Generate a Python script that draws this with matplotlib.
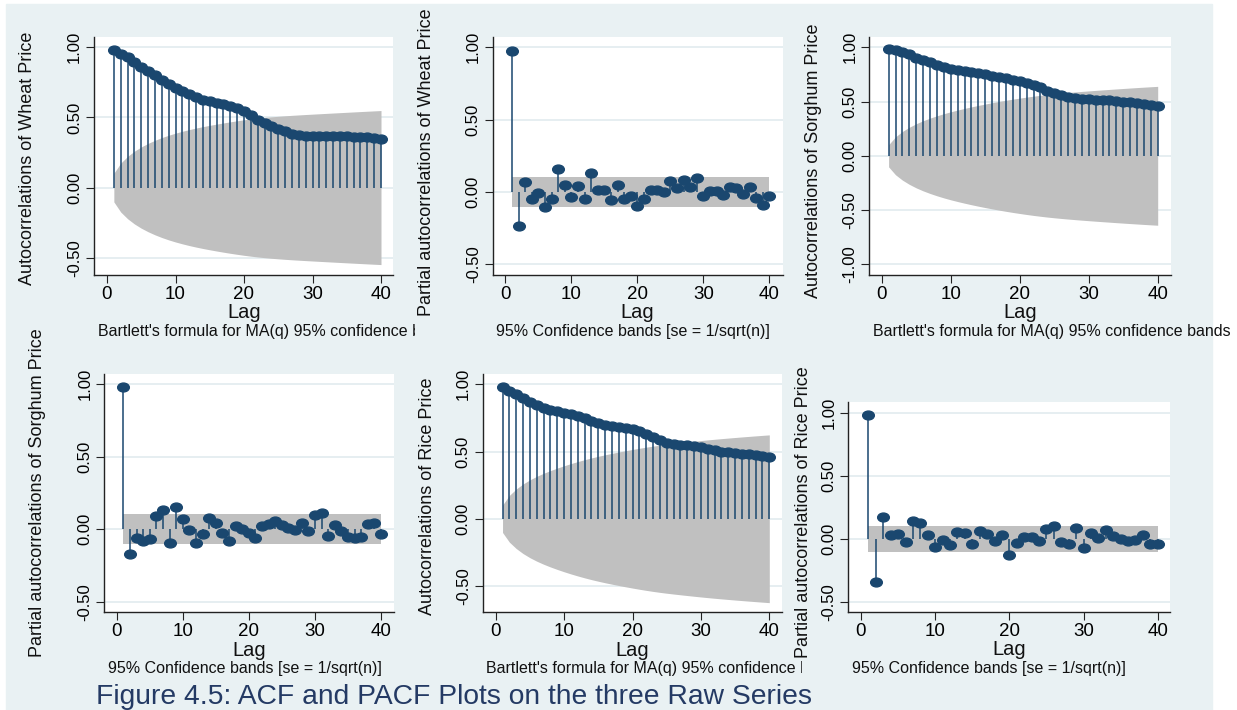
import numpy as np
import matplotlib.pyplot as plt
from matplotlib.patches import Rectangle
from matplotlib.path import Path
from matplotlib.transforms import Bbox, TransformedBbox

# ================= DATA =================
lags = np.arange(1, 41)
n_obs = 370  # sample size behind the confidence bands

wheat_acf = [0.98, 0.955, 0.93, 0.895, 0.86, 0.83, 0.80, 0.77, 0.74, 0.71,
             0.69, 0.665, 0.645, 0.625, 0.615, 0.605, 0.595, 0.58, 0.565, 0.545,
             0.515, 0.485, 0.46, 0.44, 0.42, 0.40, 0.385, 0.375, 0.37, 0.368,
             0.367, 0.366, 0.366, 0.365, 0.365, 0.364, 0.362, 0.358, 0.352, 0.345]
wheat_pacf = [0.977, -0.232, 0.071, -0.046, -0.007, -0.103, -0.046, 0.161, 0.046, -0.037,
              0.039, -0.046, 0.129, 0.016, 0.014, -0.055, 0.05, -0.046, -0.025, -0.099,
              -0.05, 0.014, 0.016, -0.002, 0.076, 0.025, 0.083, 0.032, 0.094, -0.025,
              0.009, 0.005, -0.023, 0.032, 0.028, -0.014, 0.032, -0.044, -0.087, -0.03]
sorghum_acf = [0.985, 0.975, 0.955, 0.935, 0.905, 0.88, 0.86, 0.84, 0.82, 0.80,
               0.79, 0.78, 0.77, 0.76, 0.75, 0.74, 0.73, 0.72, 0.70, 0.69,
               0.67, 0.65, 0.63, 0.60, 0.58, 0.56, 0.545, 0.535, 0.525, 0.52,
               0.515, 0.51, 0.51, 0.505, 0.50, 0.495, 0.49, 0.48, 0.47, 0.46]
sorghum_pacf = [0.984, -0.168, -0.062, -0.078, -0.069, 0.094, 0.136, -0.097, 0.156, 0.069,
                -0.007, -0.097, -0.032, 0.08, 0.041, -0.023, -0.08, 0.021, 0.0, -0.028,
                -0.062, 0.025, 0.037, 0.055, 0.03, 0.007, -0.007, 0.041, -0.011, 0.099,
                0.115, -0.044, 0.032, -0.014, -0.051, -0.06, -0.051, 0.039, 0.046, -0.03]
rice_acf = [0.978, 0.95, 0.93, 0.90, 0.87, 0.845, 0.825, 0.81, 0.80, 0.79,
            0.78, 0.765, 0.75, 0.73, 0.715, 0.70, 0.69, 0.68, 0.675, 0.665,
            0.65, 0.63, 0.61, 0.585, 0.565, 0.555, 0.55, 0.545, 0.54, 0.53,
            0.52, 0.51, 0.50, 0.495, 0.49, 0.485, 0.48, 0.475, 0.47, 0.46]
rice_pacf = [0.981, -0.347, 0.172, 0.029, 0.037, -0.024, 0.14, 0.122, 0.029, -0.066,
             -0.011, -0.05, 0.058, 0.05, -0.04, 0.063, 0.042, -0.016, 0.032, -0.13,
             -0.037, 0.013, 0.016, -0.021, 0.079, 0.103, -0.026, -0.045, 0.082, -0.071,
             0.048, 0.003, 0.071, 0.019, -0.005, -0.021, -0.008, 0.032, -0.045, -0.045]

acf_note = "Bartlett's formula for MA(q) 95% confidence bands"
pacf_note = "95% Confidence bands [se = 1/sqrt(n)]"
caption = "Figure 4.5: ACF and PACF Plots on the three Raw Series"

# ================= STYLE =================
plt.rcParams['font.family'] = ['Liberation Sans', 'DejaVu Sans']
NAVY = '#1A476F'
BAND = '#C0C0C0'
BG = '#E9F1F3'
GRID = '#E4EDF0'
W, H = 1237, 710

# elliptical marker (the source picture is stretched sideways)
circ = Path.unit_circle()
ellipse = Path(circ.vertices * [1.0, 0.76], circ.codes)

fig = plt.figure(figsize=(W / 100, H / 100), dpi=100, facecolor='white')
fig.add_artist(Rectangle((6 / W, 0), (1212 - 6) / W, (H - 4) / H,
                         transform=fig.transFigure, color=BG, zorder=-1))


def bartlett_band(acf, n):
    r = np.asarray(acf)
    cum = np.concatenate([[0.0], np.cumsum(r[:-1] ** 2)])
    return 1.96 * np.sqrt((1 + 2 * cum) / n)


def draw_panel(box, xref, yref, yticks, values, kind, ylabel, label_pos, note_clip=None):
    left, right, top, bottom = box
    ax = fig.add_axes([left / W, 1 - bottom / H, (right - left) / W, (bottom - top) / H])
    ux = (xref[1] - xref[0]) / 40
    ax.set_xlim((left - xref[0]) / ux, (right - xref[0]) / ux)
    (v1, p1), (v2, p2) = yref
    uy = (p2 - p1) / (v1 - v2)
    ax.set_ylim(v1 - (bottom - p1) / uy, v1 + (p1 - top) / uy)

    ax.set_facecolor('white')
    for s in ['top', 'right']:
        ax.spines[s].set_visible(False)
    for s in ['left', 'bottom']:
        ax.spines[s].set_color('#222222')
        ax.spines[s].set_linewidth(1.0)
    ax.grid(axis='y', color=GRID, lw=1.3)
    ax.set_axisbelow(True)

    if kind == 'acf':
        band = bartlett_band(values, n_obs)
    else:
        band = np.full(len(lags), 1.96 / np.sqrt(n_obs))
    ax.fill_between(lags, -band, band, color=BAND, lw=0, zorder=1)

    ax.vlines(lags, 0, values, color=NAVY, lw=1.1, zorder=2)
    ax.plot(lags, values, ls='none', marker=ellipse, ms=8.4, color=NAVY, zorder=3)

    ax.set_xticks([0, 10, 20, 30, 40])
    ax.set_xticklabels(['0', '10', '20', '30', '40'])
    ax.set_yticks(yticks)
    ax.set_yticklabels([f"{v:.2f}" for v in yticks], rotation=90, va='center')
    ax.tick_params(axis='both', direction='out', length=5.6, width=0.8, color='#222222')
    ax.tick_params(axis='x', labelsize=13.5, pad=2.2)
    ax.tick_params(axis='y', labelsize=12, pad=3.0)

    # axis titles and note
    fig.text(label_pos[0] / W, 1 - label_pos[1] / H, ylabel, rotation=90,
             ha='center', va='center', fontsize=13, color='#111111')
    ax.text(20, -43.5 / (bottom - top), 'Lag', transform=ax.get_xaxis_transform(),
            ha='center', va='baseline', fontsize=14.5, color='#111111')
    note = acf_note if kind == 'acf' else pacf_note
    t = fig.text((left + 3.5) / W, 1 - (bottom + 61) / H, note, ha='left', va='baseline',
                 fontsize=11.5, color='#111111')
    if note_clip is not None:
        clip = Bbox.from_extents(0, 0, note_clip / W, 1)
        t.set_clip_box(TransformedBbox(clip, fig.transFigure))
        t.set_clip_on(True)
    return ax


# top row
draw_panel((94, 393, 37, 275), (107, 381), ((1.0, 47.3), (-0.5, 257.7)),
           [-0.5, 0, 0.5, 1.0], wheat_acf, 'acf', 'Autocorrelations of Wheat Price',
           (27.5, 158), note_clip=415)
draw_panel((492.7, 782.7, 37, 275), (505.3, 769.3), ((1.0, 47.3), (-0.5, 264.3)),
           [-0.5, 0, 0.5, 1.0], wheat_pacf, 'pacf', 'Partial autocorrelations of Wheat Price',
           (426.5, 161.7))
draw_panel((869.3, 1170.7, 37, 275), (881.7, 1157.7), ((1.0, 47.3), (-1.0, 264.3)),
           [-1.0, -0.5, 0, 0.5, 1.0], sorghum_acf, 'acf', 'Autocorrelations of Sorghum Price',
           (813.5, 161))

# bottom row
draw_panel((104.3, 393.7, 374, 612.3), (116.7, 381), ((1.0, 384.3), (-0.5, 601.7)),
           [-0.5, 0, 0.5, 1.0], sorghum_pacf, 'pacf', 'Partial autocorrelations of Sorghum Price',
           (37.5, 493))
draw_panel((482.7, 782, 374, 612.3), (495.7, 769.3), ((1.0, 384.3), (-0.5, 586)),
           [-0.5, 0, 0.5, 1.0], rice_acf, 'acf', 'Autocorrelations of Rice Price',
           (427.5, 496), note_clip=801.7)
draw_panel((848.3, 1170.3, 402.3, 611.7), (861, 1157.7), ((1.0, 413), (-0.5, 601.7)),
           [-0.5, 0, 0.5, 1.0], rice_pacf, 'pacf', 'Partial autocorrelations of Rice Price',
           (803.5, 512))

fig.text(96 / W, 1 - 704 / H, caption, ha='left', va='baseline',
         fontsize=20.3, color='#243A64')

fig.savefig('out.png', dpi=100, facecolor=fig.get_facecolor())
